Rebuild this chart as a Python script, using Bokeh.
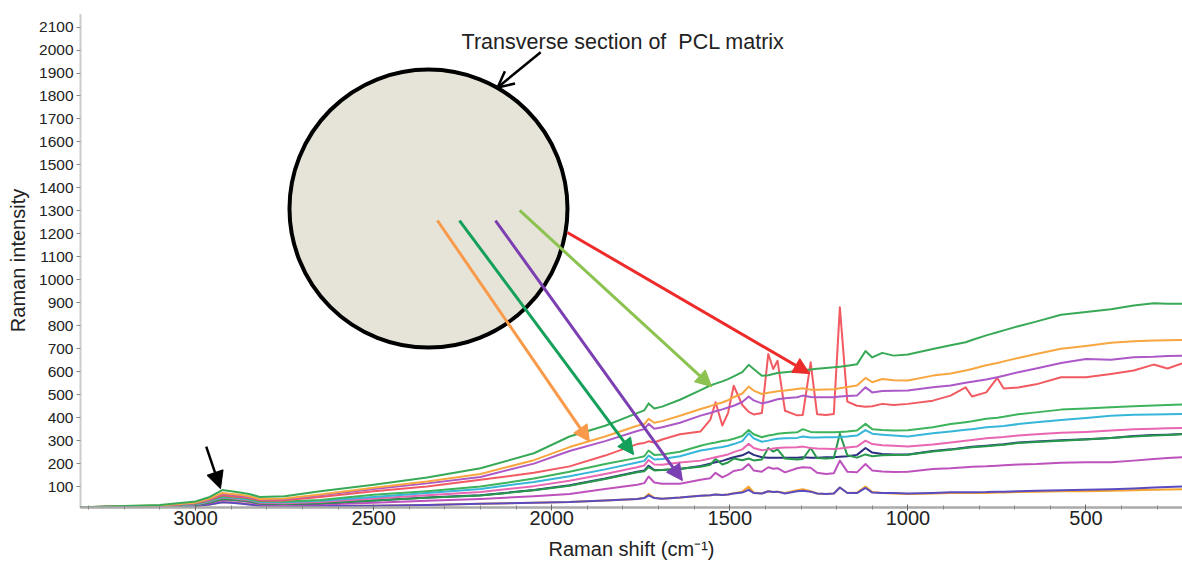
from bokeh.plotting import figure
from bokeh.models import Range1d, FixedTicker, Arrow, NormalHead, OpenHead, Label
from bokeh.embed import file_html
from bokeh.resources import INLINE

FONT = "Liberation Sans"

# ---------------- data ----------------
raman_shift = [
    3330, 3100, 3000, 2960, 2925, 2900, 2875, 2850, 2820, 2750,
    2650, 2500, 2350, 2200, 2050, 1950, 1850, 1760, 1740, 1728,
    1712, 1690, 1640, 1582, 1555, 1540, 1521, 1505, 1489, 1465,
    1447, 1433, 1410, 1392, 1378, 1366, 1345, 1311, 1295, 1273,
    1255, 1230, 1208, 1191, 1170, 1143, 1119, 1100, 1072, 1040,
    1000, 930, 880, 838, 820, 780, 749, 731, 690, 640,
    570, 500, 430, 366, 310, 271, 230]

green_top = [
    10, 20, 35, 55, 85, 80, 74, 68, 55, 58,
    80, 108, 140, 180, 245, 318, 365, 420, 432, 462,
    440, 448, 478, 520, 540, 548, 558, 568, 580, 598,
    630, 612, 582, 585, 590, 594, 598, 603, 606, 610,
    613, 616, 619, 622, 626, 632, 690, 662, 682, 670,
    675, 699, 715, 728, 738, 758, 772, 780, 798, 818,
    848, 860, 872, 888, 898, 896, 896]

orange_top = [
    10, 18, 30, 48, 72, 68, 64, 58, 46, 48,
    66, 95, 122, 155, 215, 272, 318, 365, 372, 395,
    378, 385, 408, 438, 450, 458, 466, 476, 489, 505,
    535, 518, 503, 508, 512, 515, 518, 525, 528, 522,
    522, 523, 524, 528, 533, 540, 573, 554, 568, 563,
    562, 583, 592, 605, 612, 628, 638, 645, 660, 677,
    700, 712, 726, 733, 736, 737, 738]

purple_top = [
    10, 17, 28, 45, 68, 64, 60, 55, 44, 45,
    62, 90, 114, 142, 200, 255, 298, 342, 350, 373,
    352, 358, 378, 409, 420, 428, 436, 444, 452, 468,
    492, 475, 462, 468, 475, 480, 484, 489, 496, 490,
    489, 489, 489, 492, 494, 496, 532, 510, 516, 517,
    518, 532, 540, 552, 556, 566, 576, 582, 598, 614,
    638, 655, 652, 663, 665, 668, 670]

red_curve = [
    10, 17, 27, 42, 62, 58, 55, 50, 40, 40,
    55, 80, 100, 130, 160, 188, 235, 285, 290, 297,
    292, 305, 328, 340, 390, 467, 366, 420, 539, 455,
    425, 414, 420, 677, 612, 648, 430, 410, 412, 641,
    415, 412, 416, 880, 470, 452, 448, 450, 460, 455,
    460, 474, 496, 532, 492, 510, 573, 527, 531, 545,
    576, 576, 590, 605, 631, 614, 636]

green_mid = [
    10, 16, 25, 40, 58, 55, 52, 47, 36, 35,
    42, 64, 80, 100, 135, 165, 198, 225, 232, 257,
    238, 240, 252, 278, 288, 292, 298, 302, 308, 320,
    346, 328, 315, 322, 326, 330, 333, 336, 350, 338,
    336, 336, 336, 338, 340, 344, 373, 350, 346, 344,
    345, 358, 372, 380, 384, 395, 400, 404, 415, 423,
    435, 440, 445, 450, 453, 455, 457]

cyan_curve = [
    10, 15, 23, 37, 55, 52, 48, 44, 33, 32,
    38, 55, 72, 90, 120, 145, 175, 205, 212, 235,
    218, 220, 232, 257, 264, 268, 272, 278, 285, 298,
    332, 310, 295, 300, 305, 308, 310, 312, 318, 314,
    314, 315, 315, 316, 318, 322, 346, 330, 326, 322,
    318, 332, 340, 347, 350, 358, 362, 364, 372, 380,
    390, 398, 408, 413, 414, 415, 416]

pink_curve = [
    10, 15, 22, 35, 52, 49, 45, 41, 30, 28,
    33, 48, 62, 76, 102, 125, 155, 184, 192, 216,
    196, 195, 205, 213, 222, 228, 234, 240, 250, 262,
    286, 268, 258, 262, 266, 268, 270, 271, 274, 268,
    266, 265, 264, 266, 270, 274, 300, 285, 280, 278,
    275, 283, 292, 300, 303, 310, 314, 316, 322, 328,
    334, 338, 344, 350, 352, 354, 355]

navy_curve = [
    10, 14, 20, 32, 48, 45, 42, 38, 27, 25,
    28, 40, 52, 62, 85, 106, 135, 165, 170, 191,
    172, 172, 177, 190, 200, 206, 212, 220, 228, 236,
    250, 238, 228, 226, 226, 226, 226, 226, 228, 226,
    226, 228, 228, 230, 232, 238, 268, 248, 242, 240,
    240, 255, 262, 270, 273, 278, 282, 284, 292, 296,
    302, 306, 312, 320, 324, 326, 329]

green_low = [
    10, 14, 20, 31, 46, 43, 40, 36, 26, 24,
    27, 39, 51, 61, 84, 104, 133, 162, 167, 185,
    170, 172, 178, 186, 195, 220, 196, 205, 222, 215,
    222, 214, 218, 268, 252, 262, 222, 218, 220, 268,
    224, 222, 224, 330, 236, 226, 240, 232, 236, 238,
    239, 253, 260, 268, 271, 276, 280, 282, 290, 294,
    300, 305, 311, 318, 322, 325, 328]

magenta_low = [
    10, 13, 18, 28, 42, 40, 37, 33, 22, 20,
    22, 30, 38, 46, 58, 68, 90, 108, 115, 144,
    118, 112, 112, 130, 136, 160, 140, 152, 168, 175,
    198, 170, 165, 184, 178, 180, 162, 180, 184, 182,
    160, 155, 158, 213, 165, 162, 198, 170, 166, 164,
    165, 177, 180, 184, 186, 188, 191, 193, 196, 198,
    204, 206, 206, 213, 220, 224, 228]

orange_low = [
    10, 12, 15, 22, 33, 31, 27, 23, 17, 16,
    16, 17, 20, 25, 30, 33, 40, 46, 51, 68,
    51, 47, 52, 60, 62, 66, 63, 66, 71, 78,
    100, 74, 70, 80, 76, 78, 72, 84, 88, 80,
    70, 68, 70, 96, 72, 74, 100, 76, 72, 70,
    68, 70, 72, 72, 72, 72, 74, 74, 76, 78,
    80, 80, 82, 84, 86, 87, 88]

blue_low = [
    10, 12, 15, 22, 32, 30, 26, 22, 17, 16,
    16, 17, 20, 25, 30, 33, 40, 46, 50, 62,
    50, 47, 52, 60, 62, 66, 63, 66, 70, 74,
    86, 72, 70, 80, 76, 78, 70, 80, 82, 78,
    70, 68, 70, 96, 72, 72, 94, 74, 72, 72,
    70, 72, 75, 75, 75, 76, 78, 78, 80, 82,
    84, 86, 88, 92, 96, 98, 100]

x_tick_values = [3000, 2500, 2000, 1500, 1000, 500]
x_minor_values = [3300, 3200, 3100, 2900, 2800, 2700, 2600, 2400, 2300, 2200, 2100,
                  1900, 1800, 1700, 1600, 1400, 1300, 1200, 1100, 900, 800, 700, 600,
                  400, 300]
y_tick_values = [100, 200, 300, 400, 500, 600, 700, 800, 900, 1000, 1100,
                 1200, 1300, 1400, 1500, 1600, 1700, 1800, 1900, 2000, 2100]

# drawing order (bottom first) and colours
series = [
    (orange_low, "#f5a42c"),
    (blue_low, "#5a4cc0"),
    (magenta_low, "#bd52bd"),
    (navy_curve, "#2e2e80"),
    (green_low, "#27984c"),
    (pink_curve, "#e866b2"),
    (cyan_curve, "#36b6d8"),
    (green_mid, "#3db35c"),
    (red_curve, "#f25a62"),
    (purple_top, "#ac58c8"),
    (orange_top, "#f8a640"),
    (green_top, "#38a957"),
]

# annotation geometry (data coordinates)
section_center = (2346, 1310)
section_caption = (2253, 2033, "Transverse section of\u00a0 PCL matrix")
colored_arrows = [
    (2321, 1258, 1894, 296, "#f89a4a"),
    (2259, 1258, 1770, 239, "#14a05a"),
    (2158, 1258, 1633, 126, "#7b3fb2"),
    (2090, 1302, 1551, 535, "#8cc250"),
    (1956, 1206, 1276, 592, "#ee2b2b"),
]
caption_arrow = (2031, 1990, 2152, 1837)
peak_arrow = (2970, 274, 2930, 91)

# ---------------- figure ----------------
p = figure(width=1182, height=562, output_backend="svg", toolbar_location=None,
           x_range=Range1d(3323, 229), y_range=Range1d(9, 2159),
           min_border_left=80, min_border_right=0, min_border_top=13,
           min_border_bottom=55, background_fill_color="white",
           border_fill_color="white")
p.outline_line_color = None
p.xgrid.visible = False
p.ygrid.visible = False

for ys, col in series:
    p.line(raman_shift, ys, line_color=col, line_width=2, line_join="round")

p.scatter(x=[section_center[0]], y=[section_center[1]], marker="circle", size=278,
          fill_color="#e6e4d8", line_color="black", line_width=4)

for x0, y0, x1, y1, col in colored_arrows:
    p.add_layout(Arrow(x_start=x0, y_start=y0, x_end=x1, y_end=y1,
                       line_color=col, line_width=3,
                       end=NormalHead(size=16, fill_color=col, line_color=col, line_width=1)))

p.add_layout(Arrow(x_start=caption_arrow[0], y_start=caption_arrow[1],
                   x_end=caption_arrow[2], y_end=caption_arrow[3],
                   line_color="black", line_width=2.5,
                   end=OpenHead(size=16, line_color="black", line_width=2.5)))
p.add_layout(Arrow(x_start=peak_arrow[0], y_start=peak_arrow[1],
                   x_end=peak_arrow[2], y_end=peak_arrow[3],
                   line_color="black", line_width=2.5,
                   end=NormalHead(size=17, fill_color="black", line_color="black")))

p.add_layout(Label(x=section_caption[0], y=section_caption[1], text=section_caption[2],
                   text_font=FONT, text_font_size="21.5px", text_color="#222222",
                   text_align="left", text_baseline="middle"))

xa = p.xaxis[0]
xa.ticker = FixedTicker(ticks=x_tick_values, minor_ticks=x_minor_values)
xa.axis_label = "Raman shift (cm\u207b\u00b9)"
xa.axis_label_text_font = FONT
xa.axis_label_text_font_size = "20px"
xa.axis_label_text_font_style = "normal"
xa.axis_label_text_color = "#222222"
xa.axis_label_standoff = 10
xa.major_label_text_font = FONT
xa.major_label_text_font_size = "20px"
xa.major_label_text_color = "#222222"
xa.major_label_standoff = 0
xa.axis_line_color = "#aaaaaa"
xa.axis_line_width = 2.5
xa.major_tick_line_color = "#666666"
xa.major_tick_in = 3
xa.major_tick_out = 3
xa.minor_tick_line_color = "#888888"
xa.minor_tick_in = 2
xa.minor_tick_out = 2

ya = p.yaxis[0]
ya.ticker = FixedTicker(ticks=y_tick_values, minor_ticks=[])
ya.axis_label = "Raman intensity"
ya.axis_label_text_font = FONT
ya.axis_label_text_font_size = "20px"
ya.axis_label_text_font_style = "normal"
ya.axis_label_text_color = "#222222"
ya.axis_label_standoff = 7
ya.major_label_text_font = FONT
ya.major_label_text_font_size = "15.5px"
ya.major_label_text_color = "#222222"
ya.major_label_standoff = 3
ya.axis_line_color = "#999999"
ya.axis_line_width = 2
ya.axis_line_dash = "1 1"
ya.major_tick_line_color = "#888888"
ya.major_tick_in = 0
ya.major_tick_out = 4

open("out.html", "w").write(file_html(p, INLINE))
